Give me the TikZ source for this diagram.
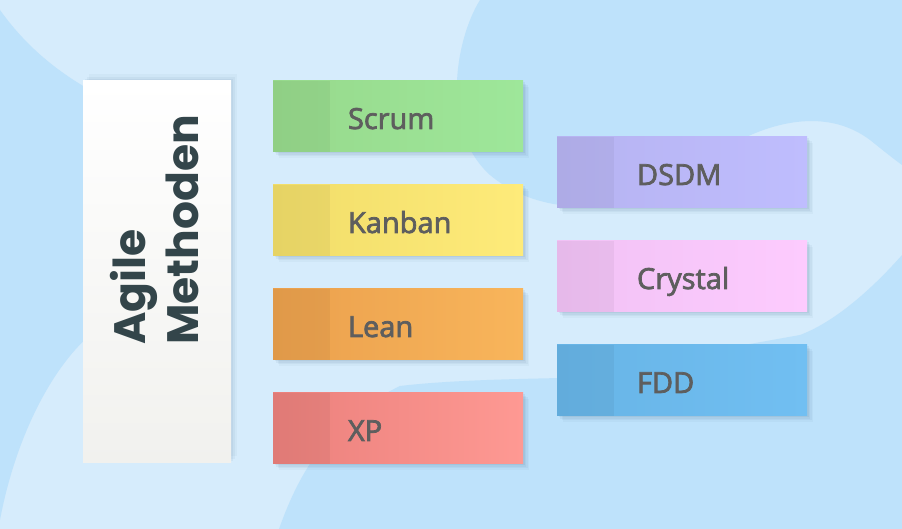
\documentclass[tikz,border=0pt]{standalone}
\usepackage{fontspec}
\setmainfont{Open Sans}
\newfontfamily\tagfont{Open Sans}[FakeBold=2.5]
\newfontfamily\headfont{Poppins}
\usepackage{tikz}
\usetikzlibrary{shapes,shadows}

\definecolor{bgLight}{HTML}{D6ECFC}
\definecolor{bgDark}{HTML}{BEE2FB}
\definecolor{txtGray}{HTML}{5E5E5E}
\definecolor{headDark}{HTML}{33454A}
\definecolor{boxGray}{HTML}{F1F1EE}
\definecolor{shadowBL}{HTML}{2F5675}
\definecolor{grL}{HTML}{97D98C}\definecolor{grR}{HTML}{9EE79A}
\definecolor{ylL}{HTML}{F1DD69}\definecolor{ylR}{HTML}{FEEB7A}
\definecolor{orL}{HTML}{EBA04D}\definecolor{orR}{HTML}{F8B55B}
\definecolor{rdL}{HTML}{EB807C}\definecolor{rdR}{HTML}{FE9993}
\definecolor{viL}{HTML}{B6B3F1}\definecolor{viR}{HTML}{BFBDFE}
\definecolor{piL}{HTML}{F1C2F5}\definecolor{piR}{HTML}{FDCBFE}
\definecolor{buL}{HTML}{67B4E6}\definecolor{buR}{HTML}{71BFF2}

\tikzstyle{softShadow} = [drop shadow={shadow xshift=1.5pt, shadow yshift=-1.5pt, fill=shadowBL, opacity=.07}, drop shadow={shadow xshift=3pt, shadow yshift=-3pt, fill=shadowBL, opacity=.06}, drop shadow={shadow xshift=4.5pt, shadow yshift=-4.5pt, fill=shadowBL, opacity=.05}, drop shadow={shadow xshift=6pt, shadow yshift=-6pt, fill=shadowBL, opacity=.04}]
\tikzstyle{titleWH} = [rectangle, minimum width=148pt, minimum height=382pt, inner sep=0pt, top color=white, middle color=white, bottom color=boxGray, drop shadow={shadow xshift=2pt, shadow yshift=2pt, fill=shadowBL, opacity=.06}, drop shadow={shadow xshift=4pt, shadow yshift=4pt, fill=shadowBL, opacity=.05}, drop shadow={shadow xshift=6pt, shadow yshift=7pt, fill=shadowBL, opacity=.04}]
\tikzstyle{titleText} = [rotate=90, anchor=west, align=left, inner sep=0pt, text=headDark, font=\headfont\bfseries\fontsize{44}{53}\selectfont]
\tikzstyle{tag} = [rectangle, text width=250pt, minimum height=71pt, inner sep=0pt, text height=25pt, text depth=0pt, align=left, text=txtGray, font=\tagfont\fontsize{29}{35}\selectfont, execute at begin node={\hspace*{75pt}}, path picture={\fill[black, opacity=0.045] (path picture bounding box.north west) rectangle ([xshift=57pt]path picture bounding box.south west);}, softShadow]
\tikzstyle{tagRight} = [execute at begin node={\hspace*{5pt}}]
\tikzstyle{tagGR} = [tag, left color=grL, right color=grR]
\tikzstyle{tagYL} = [tag, left color=ylL, right color=ylR]
\tikzstyle{tagOR} = [tag, left color=orL, right color=orR]
\tikzstyle{tagRD} = [tag, left color=rdL, right color=rdR]
\tikzstyle{tagVI} = [tag, tagRight, left color=viL, right color=viR]
\tikzstyle{tagPI} = [tag, tagRight, left color=piL, right color=piR]
\tikzstyle{tagBU} = [tag, tagRight, left color=buL, right color=buR]

\begin{document}
\begin{tikzpicture}[x=1pt, y=1pt, node distance=104pt]
    % background
    \useasboundingbox (0,0) rectangle (902,529);
    \fill[bgLight] (0,0) rectangle (902,529);
    \fill[bgDark] (0,519) .. controls (25,484) and (55,459) .. (90,439) -- (90,194) .. controls (50,159) and (15,89) .. (0,9) -- cycle;
    \fill[bgDark] (480,529) .. controls (455,489) and (440,399) .. (490,354) .. controls (520,329) and (560,319) .. (600,324) -- (740,389) .. controls (780,409) and (830,419) .. (870,389) .. controls (885,377) and (895,369) .. (902,364) -- (902,529) -- cycle;
    \fill[bgDark] (279,0) .. controls (300,59) and (330,109) .. (400,143) .. controls (450,149) and (520,150) .. (560,151) -- (800,194) .. controls (840,209) and (880,249) .. (902,274) -- (902,0) -- cycle;

    % nodes
    \node [titleWH] (title) at (157,257) {};
    \node [titleText] (titleTxt) at (155,184) {Agile\\Methoden};

    \node [tagGR] (scrum) at (398,412.5) {Scrum};
    \node [tagYL, below of = scrum] (kanban) {Kanban};
    \node [tagOR, below of = kanban] (lean) {Lean};
    \node [tagRD, below of = lean] (xp) {XP};

    \node [tagVI, right of = scrum, node distance = 284pt, yshift=-56pt] (dsdm) {DSDM};
    \node [tagPI, below of = dsdm] (crystal) {Crystal};
    \node [tagBU, below of = crystal] (fdd) {FDD};
\end{tikzpicture}
\end{document}
